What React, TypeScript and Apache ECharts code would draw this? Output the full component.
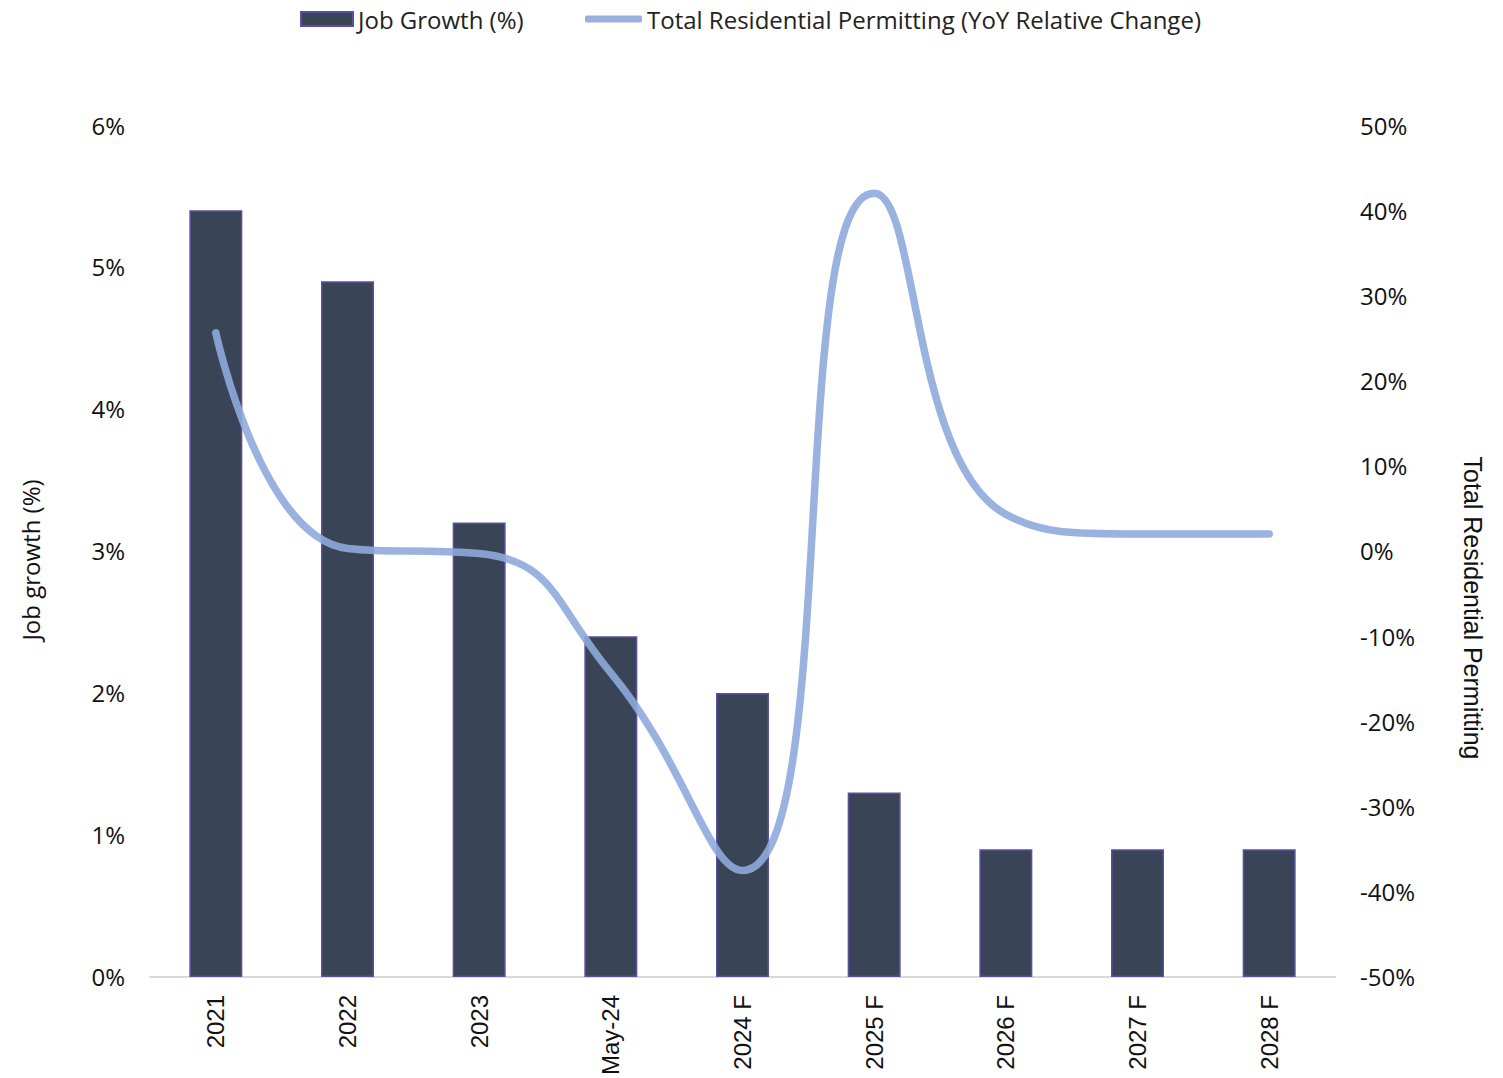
import React, { useEffect, useRef } from "react";
import * as echarts from "echarts";

const categories = ["2021", "2022", "2023", "May-24", "2024 F", "2025 F", "2026 F", "2027 F", "2028 F"];
const jobGrowth = [5.4, 4.9, 3.2, 2.4, 2.0, 1.3, 0.9, 0.9, 0.9];
const permitting = [25.6, 0.3, -0.3, -14.3, -37.5, 42, 4.3, 2.0, 2.0];
const leftTicks = { min: 0, max: 6, interval: 1 };
const rightTicks = { min: -50, max: 50, interval: 10 };

const BAR_NAME = "Job Growth (%)";
const LINE_NAME = "Total Residential Permitting (YoY Relative Change)";

export default function App() {
  const ref = useRef<HTMLDivElement>(null);
  useEffect(() => {
    if (!ref.current) return;
    const chart = echarts.init(ref.current, null, { renderer: "svg" });
    const font = "'Open Sans', sans-serif";
    const arial = "'Liberation Sans', Arial, sans-serif";
    const legendText = { fontFamily: font, fontSize: 24, color: "#222" };
    chart.setOption({
      animation: false,
      textStyle: { fontFamily: font },
      legend: [
        {
          top: 7,
          left: 300,
          padding: 0,
          itemWidth: 52,
          itemHeight: 14,
          textStyle: legendText,
          data: [{ name: BAR_NAME, icon: "rect" }],
        },
        {
          top: 7,
          left: 585,
          padding: 0,
          itemWidth: 57,
          itemHeight: 7,
          textStyle: legendText,
          data: [{ name: LINE_NAME, icon: "roundRect" }],
        },
      ],
      grid: { left: 150, right: 168, top: 125, bottom: 101 },
      xAxis: {
        type: "category",
        data: categories,
        axisLine: { lineStyle: { color: "#d9d9d9", width: 2 } },
        axisTick: { show: false },
        axisLabel: {
          rotate: 90,
          margin: 18,
          fontFamily: arial,
          fontSize: 24,
          color: "#111",
        },
      },
      yAxis: [
        {
          type: "value",
          ...leftTicks,
          splitLine: { show: false },
          axisLine: { show: false },
          axisTick: { show: false },
          axisLabel: {
            formatter: "{value}%",
            fontFamily: font,
            fontSize: 24,
            color: "#111",
            margin: 25,
            padding: [0, 0, 6, 0],
          },
        },
        {
          type: "value",
          ...rightTicks,
          position: "right",
          splitLine: { show: false },
          axisLine: { show: false },
          axisTick: { show: false },
          axisLabel: {
            formatter: "{value}%",
            fontFamily: font,
            fontSize: 24,
            color: "#111",
            margin: 25,
            padding: [0, 0, 6, 0],
          },
        },
      ],
      graphic: [
        {
          type: "text",
          x: 30,
          y: 560,
          rotation: Math.PI / 2,
          style: {
            text: "Job growth (%)",
            fontFamily: font,
            fontSize: 24,
            fill: "#111",
            align: "center",
            verticalAlign: "middle",
          },
        },
        {
          type: "text",
          x: 1473,
          y: 608,
          rotation: -Math.PI / 2,
          style: {
            text: "Total Residential Permitting",
            fontFamily: arial,
            fontSize: 25,
            fill: "#111",
            align: "center",
            verticalAlign: "middle",
          },
        },
      ],
      series: [
        {
          name: BAR_NAME,
          type: "bar",
          data: jobGrowth,
          yAxisIndex: 0,
          barWidth: 53,
          itemStyle: { color: "#3a4457", borderColor: "#5a4fa2", borderWidth: 1.5 },
        },
        {
          name: LINE_NAME,
          type: "line",
          data: permitting,
          yAxisIndex: 1,
          smooth: 0.5,
          symbol: "none",
          lineStyle: { color: "#8eaadb", width: 7.5, opacity: 0.9, cap: "round" },
          itemStyle: { color: "#97b0de" },
        },
      ],
    });
    return () => chart.dispose();
  }, []);
  return <div ref={ref} style={{ width: 1503, height: 1078, position: "absolute", left: 0, top: 0, background: "#fff" }} />;
}
